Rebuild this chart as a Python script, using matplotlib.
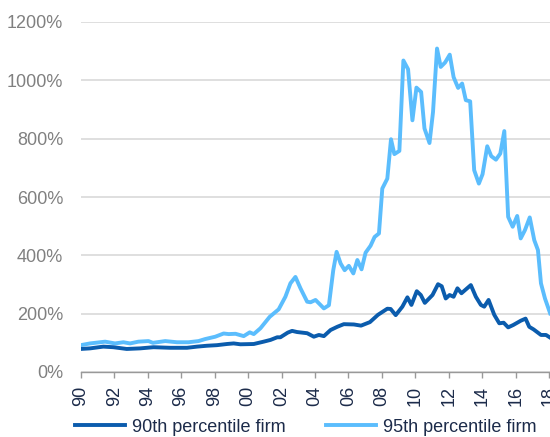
import matplotlib
matplotlib.use("Agg")
import matplotlib.pyplot as plt

plt.rcParams['font.family'] = ['Liberation Sans', 'DejaVu Sans']

# 95th percentile firm (turning points, year fraction -> %)
p95_years = [1990.0, 1990.56, 1991.46, 1992.05, 1992.55, 1992.95, 1993.45, 1994.05, 1994.31,
             1995.05, 1995.75, 1996.44, 1997.04, 1997.44, 1997.74, 1998.04, 1998.54, 1998.84,
             1999.25, 1999.74, 2000.10, 2000.34, 2000.74, 2001.29, 2001.83, 2002.23, 2002.53,
             2002.83, 2003.13, 2003.53, 2003.73, 2004.03, 2004.29, 2004.53, 2004.83, 2005.09,
             2005.29, 2005.53, 2005.77, 2006.02, 2006.29, 2006.53, 2006.78, 2007.02, 2007.32,
             2007.56, 2007.82, 2008.02, 2008.32, 2008.54, 2008.74, 2009.04, 2009.28, 2009.56,
             2009.82, 2010.06, 2010.34, 2010.54, 2010.84, 2011.05, 2011.29, 2011.51, 2011.77,
             2012.05, 2012.28, 2012.55, 2012.79, 2013.01, 2013.27, 2013.51, 2013.79, 2014.01,
             2014.29, 2014.53, 2014.81, 2015.07, 2015.31, 2015.54, 2015.81, 2016.08, 2016.29,
             2016.54, 2016.83, 2017.10, 2017.32, 2017.50, 2017.74, 2018.05]
p95_vals = [92, 98, 104, 98, 102, 98, 104, 106, 100,
            106, 102, 102, 106, 113, 117, 121, 132, 130,
            131, 123, 136, 130, 150, 189, 215, 258, 304,
            326, 287, 241, 239, 247, 232, 218, 229, 349,
            412, 372, 349, 364, 338, 384, 352, 409, 433,
            463, 475, 629, 663, 798, 747, 758, 1068, 1038,
            863, 975, 960, 835, 785, 891, 1109, 1046, 1061,
            1088, 1011, 974, 989, 932, 928, 692, 646, 678,
            774, 740, 728, 749, 826, 532, 498, 535, 458,
            486, 530, 452, 418, 304, 252, 201]

# 90th percentile firm
p90_years = [1990.0, 1990.56, 1991.35, 1991.95, 1992.75, 1993.55, 1994.35, 1995.35, 1996.35,
             1996.95, 1997.54, 1998.14, 1998.74, 1999.14, 1999.54, 2000.34, 2000.93, 2001.34,
             2001.74, 2001.93, 2002.37, 2002.63, 2002.93, 2003.53, 2003.93, 2004.23, 2004.53,
             2004.93, 2005.33, 2005.72, 2006.32, 2006.75, 2007.28, 2007.76, 2008.32, 2008.52,
             2008.82, 2009.22, 2009.52, 2009.76, 2010.08, 2010.32, 2010.56, 2011.02, 2011.35,
             2011.57, 2011.81, 2012.04, 2012.28, 2012.51, 2012.75, 2013.31, 2013.61, 2013.91,
             2014.11, 2014.37, 2014.71, 2015.01, 2015.27, 2015.54, 2015.84, 2016.30, 2016.58,
             2016.80, 2017.06, 2017.50, 2017.80, 2018.10]
p90_vals = [79, 81, 87, 85, 79, 81, 85, 83, 83,
            87, 90, 92, 96, 98, 95, 96, 104, 110,
            119, 119, 135, 141, 137, 133, 121, 127, 123,
            144, 155, 164, 163, 159, 171, 196, 217, 216,
            195, 224, 256, 230, 277, 264, 237, 264, 301,
            294, 252, 264, 258, 287, 270, 298, 258, 230,
            224, 247, 196, 167, 169, 153, 161, 176, 183,
            155, 146, 127, 127, 116]

tick_years = list(range(1990, 2019, 2))
tick_labels = [f"{y % 100:02d}" for y in tick_years]
y_ticks = [0, 200, 400, 600, 800, 1000, 1200]

dark = '#0b5cad'
light = '#5bbdfd'
navy = '#1c2b4a'

fig = plt.figure(figsize=(5.5, 4.37), dpi=100)
ax = fig.add_axes([80.7 / 550, 65 / 437, 1 - 80.7 / 550, 350 / 437])

l95, = ax.plot(p95_years, p95_vals, color=light, lw=2.8, zorder=3,
               solid_joinstyle='round', label='95th percentile firm')
l90, = ax.plot(p90_years, p90_vals, color=dark, lw=2.8, zorder=4,
               solid_joinstyle='round', label='90th percentile firm')

ax.set_xlim(1990, 2018.04)
ax.set_ylim(0, 1200)

ax.set_xticks(tick_years)
ax.set_xticklabels(tick_labels, rotation=90, color=navy, fontsize=13)
ax.set_yticks(y_ticks)
ax.set_yticklabels([f"{v}%" for v in y_ticks], color='#808080', fontsize=13)

ax.tick_params(axis='x', length=4, width=1, color='#999999', pad=6, direction='out')
ax.tick_params(axis='y', length=0, pad=12.5)

for s in ['top', 'right', 'left']:
    ax.spines[s].set_visible(False)
ax.spines['bottom'].set_color('#999999')
ax.spines['bottom'].set_linewidth(1)

ax.grid(axis='y', color='#d9d9d9', lw=1.2)
ax.set_axisbelow(True)
ax.patch.set_alpha(0)

fig.legend(handles=[l90, l95], loc='center left', bbox_to_anchor=(75 / 550, 10 / 437),
           ncol=2, frameon=False, fontsize=13, labelcolor=navy, borderpad=0,
           handlelength=2.77, handletextpad=0.37, columnspacing=2.27,
           borderaxespad=0)

fig.savefig('out.png', dpi=100)
